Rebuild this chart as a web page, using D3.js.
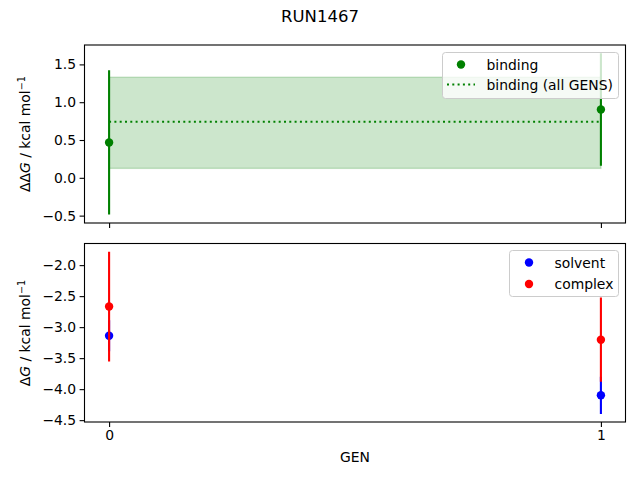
<!DOCTYPE html>
<html><head><meta charset="utf-8">
<script src="https://cdn.jsdelivr.net/npm/d3@7"></script>
<style>body{margin:0;background:#fff}svg{display:block}text{font-family:"DejaVu Sans",sans-serif;fill:#000}</style>
</head><body><svg id="c" width="640" height="480"></svg>
<script>
const gens = [0, 1];
const bindingVals = [0.468, 0.904];
const bindingErrs = [0.953, 0.745];
const bindingAllMean = 0.74;
const bindingAllLow = 0.125;
const bindingAllHigh = 1.33;
const solventVals = [-3.138, -4.099];
const solventErrs = [0.25, 0.30];
const complexVals = [-2.668, -3.202];
const complexErrs = [0.885, 0.68];
const topTicks = [-0.5, 0.0, 0.5, 1.0, 1.5];
const botTicks = [-4.5, -4.0, -3.5, -3.0, -2.5, -2.0];
const xTicks = [0, 1];

const svg = d3.select("#c");
const L = 84.5, R = 625.5;
const x = d3.scaleLinear().domain([-0.05, 1.05]).range([L, R]);
const yT = d3.scaleLinear().domain([-0.5975, 1.7565]).range([223, 45]);
const yB = d3.scaleLinear().domain([-4.5298, -1.6512]).range([422, 243.5]);
const fmt = d => d3.format(".1f")(d).replace("-", "\u2212");

svg.append("text").attr("x", 320).attr("y", 22).attr("text-anchor", "middle").attr("font-size", 16.5).text("RUN1467");

function axesFrame(y, ticks, top, bottom, showX) {
  const g = svg.append("g");
  const ya = d3.axisLeft(y).tickValues(ticks).tickFormat(fmt).tickSize(4.9).tickPadding(3.5);
  const ga = g.append("g").attr("transform", `translate(${L},0)`).call(ya);
  ga.select(".domain").remove();
  ga.selectAll("text").attr("font-size", 13.9).attr("font-family", "DejaVu Sans");
  ga.selectAll("line").attr("stroke-width", 1.1);
  const xa = d3.axisBottom(x).tickValues(xTicks).tickFormat(showX ? d3.format("d") : "").tickSize(4.9).tickPadding(3.5);
  const gx = g.append("g").attr("transform", `translate(0,${bottom})`).call(xa);
  gx.select(".domain").remove();
  gx.selectAll("text").attr("font-size", 13.9).attr("font-family", "DejaVu Sans");
  gx.selectAll("line").attr("stroke-width", 1.1);
  return g;
}
function frame(top, bottom) {
  svg.append("rect").attr("x", L).attr("y", top).attr("width", R - L).attr("height", bottom - top)
    .attr("fill", "none").attr("stroke", "#000").attr("stroke-width", 1.1);
}

// TOP PANEL
const clipT = svg.append("clipPath").attr("id", "ct").append("rect").attr("x", L).attr("y", 45).attr("width", R - L).attr("height", 178);
const pT = svg.append("g").attr("clip-path", "url(#ct)");
pT.append("rect").attr("x", x(gens[0])).attr("width", x(gens[1]) - x(gens[0]))
  .attr("y", yT(bindingAllHigh)).attr("height", yT(bindingAllLow) - yT(bindingAllHigh))
  .attr("fill", "green").attr("fill-opacity", 0.2).attr("stroke", "green").attr("stroke-opacity", 0.2).attr("stroke-width", 1.4);
pT.append("line").attr("x1", x(gens[0])).attr("x2", x(gens[1])).attr("y1", yT(bindingAllMean)).attr("y2", yT(bindingAllMean))
  .attr("stroke", "green").attr("stroke-width", 2).attr("stroke-dasharray", "2,3.3");
gens.forEach((g, i) => {
  pT.append("line").attr("x1", x(g)).attr("x2", x(g)).attr("y1", yT(bindingVals[i] - bindingErrs[i])).attr("y2", yT(bindingVals[i] + bindingErrs[i]))
    .attr("stroke", "green").attr("stroke-width", 2.1);
  pT.append("circle").attr("cx", x(g)).attr("cy", yT(bindingVals[i])).attr("r", 4.2).attr("fill", "green");
});
axesFrame(yT, topTicks, 45, 223, false);
frame(45, 223);

// legend top
const lgT = svg.append("g");
lgT.append("rect").attr("x", 442.5).attr("y", 52.5).attr("width", 176).attr("height", 46).attr("rx", 3)
  .attr("fill", "#fff").attr("fill-opacity", 0.8).attr("stroke", "#cccccc").attr("stroke-width", 1);
lgT.append("circle").attr("cx", 461).attr("cy", 64.5).attr("r", 4.2).attr("fill", "green");
lgT.append("text").attr("x", 486.5).attr("y", 69.5).attr("font-size", 13.9).text("binding");
lgT.append("line").attr("x1", 447).attr("x2", 475).attr("y1", 84.5).attr("y2", 84.5)
  .attr("stroke", "green").attr("stroke-width", 2).attr("stroke-dasharray", "2,3.3");
lgT.append("text").attr("x", 486.5).attr("y", 89.5).attr("font-size", 13.9).text("binding (all GENS)");

// BOTTOM PANEL
svg.append("clipPath").attr("id", "cb").append("rect").attr("x", L).attr("y", 243.5).attr("width", R - L).attr("height", 178.5);
const pB = svg.append("g").attr("clip-path", "url(#cb)");
gens.forEach((g, i) => {
  pB.append("line").attr("x1", x(g)).attr("x2", x(g)).attr("y1", yB(solventVals[i] - solventErrs[i])).attr("y2", yB(solventVals[i] + solventErrs[i]))
    .attr("stroke", "blue").attr("stroke-width", 2.1);
  pB.append("circle").attr("cx", x(g)).attr("cy", yB(solventVals[i])).attr("r", 4.2).attr("fill", "blue");
});
gens.forEach((g, i) => {
  pB.append("line").attr("x1", x(g)).attr("x2", x(g)).attr("y1", yB(complexVals[i] - complexErrs[i])).attr("y2", yB(complexVals[i] + complexErrs[i]))
    .attr("stroke", "red").attr("stroke-width", 2.1);
  pB.append("circle").attr("cx", x(g)).attr("cy", yB(complexVals[i])).attr("r", 4.2).attr("fill", "red");
});
axesFrame(yB, botTicks, 243.5, 422, true);
frame(243.5, 422);

const lgB = svg.append("g");
lgB.append("rect").attr("x", 509.5).attr("y", 250.5).attr("width", 109).attr("height", 46).attr("rx", 3)
  .attr("fill", "#fff").attr("fill-opacity", 0.8).attr("stroke", "#cccccc").attr("stroke-width", 1);
lgB.append("circle").attr("cx", 529).attr("cy", 262.5).attr("r", 4.2).attr("fill", "blue");
lgB.append("text").attr("x", 554.5).attr("y", 267.5).attr("font-size", 13.9).text("solvent");
lgB.append("circle").attr("cx", 529).attr("cy", 284).attr("r", 4.2).attr("fill", "red");
lgB.append("text").attr("x", 554.5).attr("y", 288.5).attr("font-size", 13.9).text("complex");

// axis labels
function ylab(cy, prefix) {
  const t = svg.append("text").attr("transform", `translate(30,${cy}) rotate(-90)`).attr("text-anchor", "middle").attr("font-size", 13.9);
  t.append("tspan").text(prefix);
  t.append("tspan").attr("font-style", "italic").text("G");
  t.append("tspan").text(" / kcal mol");
  t.append("tspan").attr("font-size", 9.7).attr("dy", -5.5).text("\u22121");
}
ylab(134, "\u0394\u0394");
ylab(333, "\u0394");
svg.append("text").attr("x", 355).attr("y", 462).attr("text-anchor", "middle").attr("font-size", 13.9).text("GEN");
</script></body></html>
